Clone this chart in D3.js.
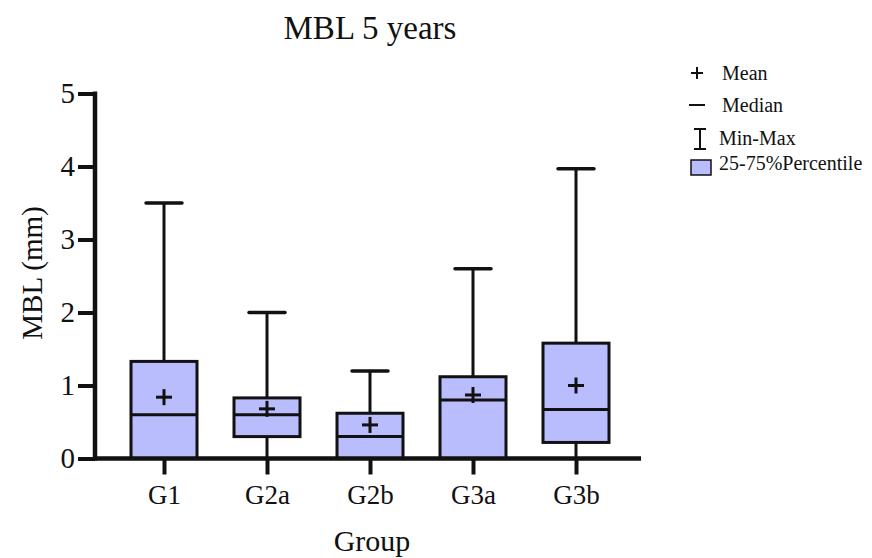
<!DOCTYPE html>
<html>
<head>
<meta charset="utf-8">
<script src="https://cdn.jsdelivr.net/npm/d3@7"></script>
<style>
  html, body { margin: 0; padding: 0; background: #fff; }
  svg { display: block; }
  text { font-family: "Liberation Serif", "DejaVu Serif", serif; fill: #111; }
</style>
</head>
<body>
<div id="chart"></div>
<script>
// Marginal bone loss after 5 years, per group (mm)
const groups  = ["G1", "G2a", "G2b", "G3a", "G3b"];
const minVals = [0, 0, 0, 0, 0];
const q1Vals  = [0, 0.3, 0, 0, 0.22];
const medians = [0.6, 0.6, 0.3, 0.8, 0.67];
const q3Vals  = [1.33, 0.83, 0.62, 1.12, 1.58];
const maxVals = [3.5, 2.0, 1.2, 2.6, 3.97];
const means   = [0.84, 0.68, 0.46, 0.87, 1.0];
const yTicks  = [0, 1, 2, 3, 4, 5];

const rows = groups.map((g, i) => ({
  g, min: minVals[i], q1: q1Vals[i], med: medians[i], q3: q3Vals[i], max: maxVals[i], mean: means[i]
}));

const W = 872, H = 558;
const fill = "#babdfd";
const ink = "#111";

const svg = d3.select("#chart").append("svg").attr("width", W).attr("height", H);

const y = d3.scaleLinear().domain([0, 5]).range([458.5, 93.5]);
const x = d3.scalePoint().domain(groups).range([164, 576]);
const boxW = 66, capW = 36, plus = 8;

// title
svg.append("text").attr("x", 370).attr("y", 39).attr("text-anchor", "middle")
  .attr("font-size", 33).text("MBL 5 years");

// whiskers (drawn first so boxes sit on top)
const g = svg.append("g");
g.selectAll("line.whisk").data(rows).join("line")
  .attr("x1", d => x(d.g)).attr("x2", d => x(d.g))
  .attr("y1", d => y(d.min)).attr("y2", d => y(d.max))
  .attr("stroke", ink).attr("stroke-width", 3);
g.selectAll("line.cap").data(rows).join("line")
  .attr("x1", d => x(d.g) - capW / 2).attr("x2", d => x(d.g) + capW / 2)
  .attr("y1", d => y(d.max)).attr("y2", d => y(d.max))
  .attr("stroke", ink).attr("stroke-width", 3.5).attr("stroke-linecap", "round");

// boxes
g.selectAll("rect.box").data(rows).join("rect")
  .attr("x", d => x(d.g) - boxW / 2).attr("width", boxW)
  .attr("y", d => y(d.q3)).attr("height", d => y(d.q1) - y(d.q3))
  .attr("fill", fill).attr("stroke", ink).attr("stroke-width", 3);

// medians
g.selectAll("line.med").data(rows).join("line")
  .attr("x1", d => x(d.g) - boxW / 2).attr("x2", d => x(d.g) + boxW / 2)
  .attr("y1", d => y(d.med)).attr("y2", d => y(d.med))
  .attr("stroke", ink).attr("stroke-width", 3);

// means
const mg = g.selectAll("g.mean").data(rows).join("g")
  .attr("transform", d => `translate(${x(d.g)},${y(d.mean)})`);
mg.append("line").attr("x1", -plus).attr("x2", plus).attr("stroke", ink).attr("stroke-width", 3);
mg.append("line").attr("y1", -plus).attr("y2", plus).attr("stroke", ink).attr("stroke-width", 3);

// y axis
const yAxis = svg.append("g").attr("transform", "translate(95,0)")
  .call(d3.axisLeft(y).tickValues(yTicks).tickSize(17).tickPadding(3).tickFormat(d3.format("d")));
yAxis.select(".domain").remove();
yAxis.selectAll(".tick line").attr("stroke", ink).attr("stroke-width", 4);
yAxis.selectAll(".tick text").attr("font-size", 29).attr("fill", ink)
  .attr("font-family", "Liberation Serif, serif");
svg.append("line").attr("x1", 95).attr("x2", 95).attr("y1", y(5) - 2).attr("y2", y(0) + 2)
  .attr("stroke", ink).attr("stroke-width", 4.5);

// x axis
const xAxis = svg.append("g").attr("transform", `translate(0,${y(0)})`)
  .call(d3.axisBottom(x).tickSize(16).tickPadding(10));
xAxis.select(".domain").remove();
xAxis.selectAll(".tick line").attr("stroke", ink).attr("stroke-width", 4);
xAxis.selectAll(".tick text").attr("font-size", 27).attr("fill", ink)
  .attr("font-family", "Liberation Serif, serif");
svg.append("line").attr("x1", 93).attr("x2", 641).attr("y1", y(0)).attr("y2", y(0))
  .attr("stroke", ink).attr("stroke-width", 4.5);

// axis titles
svg.append("text").attr("transform", "translate(42,273) rotate(-90)")
  .attr("text-anchor", "middle").attr("font-size", 29).text("MBL (mm)");
svg.append("text").attr("x", 372).attr("y", 551).attr("text-anchor", "middle")
  .attr("font-size", 30).text("Group");

// legend
const lg = svg.append("g");
const lfs = 20;
lg.append("line").attr("x1", 691).attr("x2", 703).attr("y1", 73).attr("y2", 73).attr("stroke", ink).attr("stroke-width", 2);
lg.append("line").attr("x1", 697).attr("x2", 697).attr("y1", 67).attr("y2", 79).attr("stroke", ink).attr("stroke-width", 2);
lg.append("text").attr("x", 722).attr("y", 80).attr("font-size", lfs).text("Mean");

lg.append("line").attr("x1", 689).attr("x2", 705).attr("y1", 105).attr("y2", 105).attr("stroke", ink).attr("stroke-width", 2);
lg.append("text").attr("x", 722).attr("y", 112).attr("font-size", lfs).text("Median");

lg.append("line").attr("x1", 700).attr("x2", 700).attr("y1", 129).attr("y2", 149).attr("stroke", ink).attr("stroke-width", 2);
lg.append("line").attr("x1", 694).attr("x2", 706).attr("y1", 129).attr("y2", 129).attr("stroke", ink).attr("stroke-width", 2);
lg.append("line").attr("x1", 694).attr("x2", 706).attr("y1", 149).attr("y2", 149).attr("stroke", ink).attr("stroke-width", 2);
lg.append("text").attr("x", 719).attr("y", 145).attr("font-size", lfs).text("Min-Max");

lg.append("rect").attr("x", 691).attr("y", 160).attr("width", 20).attr("height", 15)
  .attr("fill", fill).attr("stroke", ink).attr("stroke-width", 1.5);
lg.append("text").attr("x", 719).attr("y", 170).attr("font-size", lfs).text("25-75%Percentile");
</script>
</body>
</html>
